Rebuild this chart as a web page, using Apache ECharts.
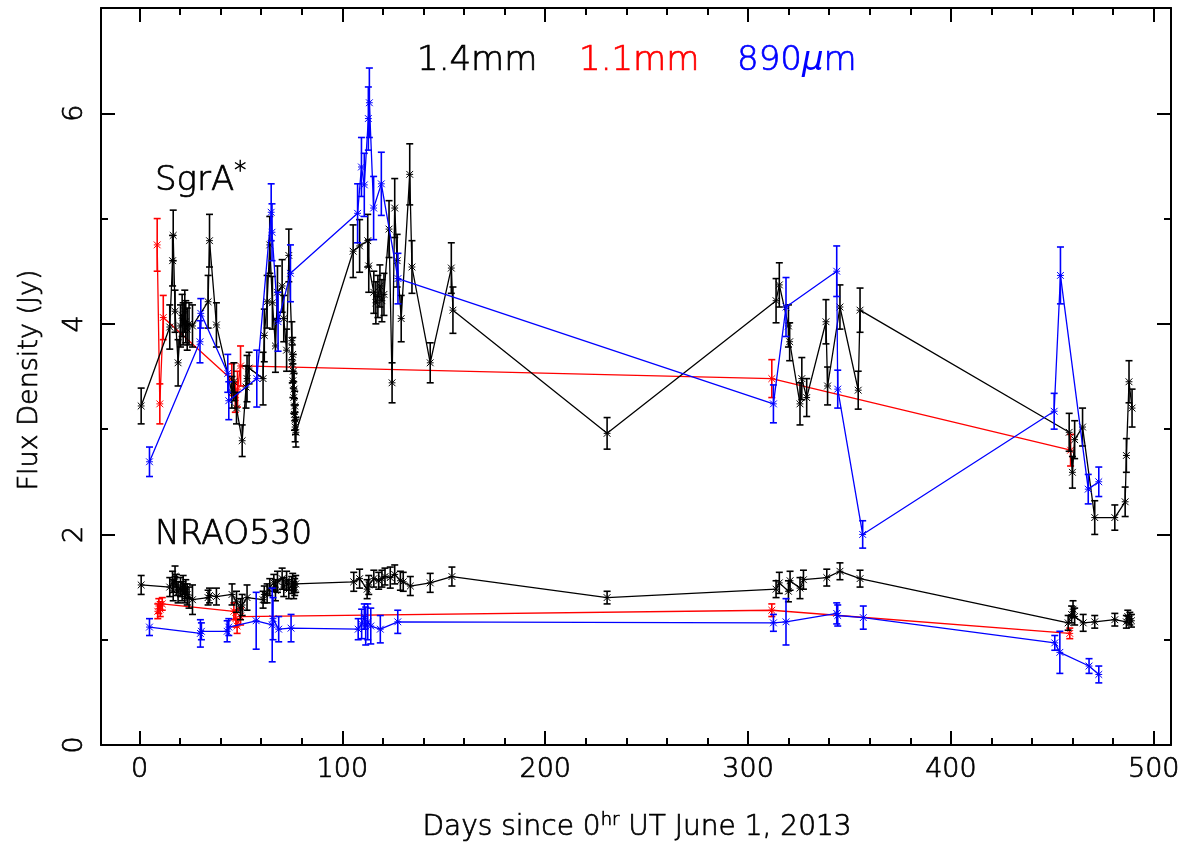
<!DOCTYPE html>
<html>
<head>
<meta charset="utf-8">
<script src="https://cdn.jsdelivr.net/npm/echarts@6/dist/echarts.min.js"></script>
<style>
  html, body { margin: 0; padding: 0; background: #ffffff; }
  #chart { width: 1182px; height: 847px; }
</style>
</head>
<body>
<div id="chart"></div>
<script>
// Light curves: [day, flux density (Jy), 1-sigma error]
const sgrA_14mm = [
  [0.8,3.22,0.17],[14.9,3.97,0.21],[16.3,4.60,0.24],[16.6,4.84,0.24],[17.5,4.12,0.20],[19.0,3.63,0.22],
  [20.2,3.98,0.20],[21.0,4.08,0.20],[21.5,4.00,0.20],[22.3,4.12,0.20],[22.8,4.02,0.20],[23.5,3.95,0.20],
  [24.4,4.00,0.20],[26.1,3.98,0.20],[33.8,4.21,0.25],[34.5,4.79,0.25],[37.9,3.99,0.21],[45.5,3.35,0.15],
  [46.5,3.45,0.18],[47.8,3.20,0.15],[50.6,2.89,0.15],[52.5,3.40,0.20],[53.0,3.48,0.22],[54.0,3.58,0.15],
  [60.9,3.48,0.25],[61.5,3.89,0.25],[62.9,4.21,0.25],[64.2,4.75,0.27],[65.5,4.20,0.25],[67.0,3.79,0.25],
  [68.0,4.30,0.25],[70.3,4.36,0.25],[71.1,4.05,0.22],[72.5,3.75,0.20],[73.6,4.65,0.25],[75.1,3.84,0.18],
  [75.3,3.62,0.18],[75.5,3.71,0.16],[75.6,3.46,0.16],[75.8,3.55,0.16],[76.0,3.30,0.15],[76.2,3.38,0.15],
  [76.4,3.14,0.15],[76.5,3.22,0.14],[76.7,3.02,0.14],[76.9,3.09,0.14],[77.1,2.97,0.14],
  [105.3,4.69,0.25],[108.5,4.74,0.25],[112.5,4.79,0.25],[113.0,4.55,0.25],[115.5,4.30,0.20],[116.5,4.20,0.20],
  [117.5,4.26,0.20],[118.5,4.36,0.20],[119.5,4.22,0.20],[120.5,4.28,0.20],[123.0,4.90,0.27],[124.5,3.44,0.19],
  [125.8,5.10,0.28],[127.0,4.60,0.25],[129.0,4.05,0.22],[133.2,5.42,0.29],[134.3,4.54,0.25],[143.3,3.63,0.19],
  [153.7,4.53,0.24],[154.5,4.13,0.22],[230.5,2.96,0.15],[313.8,4.22,0.21],[315.4,4.37,0.21],[319.9,3.98,0.20],
  [320.5,3.83,0.18],[325.6,3.24,0.20],[326.5,3.48,0.20],[328.9,3.30,0.18],[338.4,4.02,0.21],[339.2,3.41,0.18],
  [345.3,4.16,0.21],[354.3,3.37,0.18],[355.2,4.13,0.21],[458.3,2.97,0.18],[459.9,2.59,0.15],[461.0,2.90,0.18],
  [464.9,3.02,0.18],[470.9,2.16,0.16],[480.8,2.16,0.12],[485.9,2.31,0.14],[486.5,2.75,0.16],[487.8,3.45,0.20],
  [489.3,3.20,0.18]
];
const sgrA_11mm = [
  [8.7,4.75,0.25],[10.0,3.24,0.19],[11.7,4.06,0.21],[45.5,3.47,0.15],[47.2,3.30,0.14],[48.3,3.38,0.17],
  [49.8,3.60,0.19],[311.7,3.48,0.18],[459.0,2.80,0.15]
];
const sgrA_890um = [
  [4.9,2.69,0.14],[29.8,3.83,0.20],[30.2,4.10,0.14],[43.5,3.53,0.18],[44.0,3.27,0.18],[57.8,3.48,0.27],
  [64.9,5.06,0.27],[65.3,4.87,0.27],[68.3,4.02,0.28],[74.4,4.48,0.27],[107.5,5.05,0.28],[109.4,5.49,0.28],
  [110.8,5.32,0.30],[112.8,5.95,0.30],[113.3,6.10,0.33],[115.4,5.10,0.30],[119.2,5.33,0.30],[127.4,4.43,0.24],
  [312.5,3.24,0.18],[318.7,4.16,0.28],[343.7,4.50,0.24],[344.2,3.38,0.18],[356.5,2.00,0.13],[450.9,3.17,0.17],
  [454.0,4.46,0.27],[467.7,2.43,0.14],[472.9,2.50,0.14]
];
const nrao_14mm = [
  [0.8,1.52,0.09],[14.9,1.50,0.09],[16.3,1.55,0.10],[16.6,1.47,0.10],[17.5,1.60,0.10],[18.2,1.52,0.10],
  [19.0,1.45,0.10],[20.2,1.50,0.09],[21.0,1.46,0.09],[21.5,1.52,0.09],[22.3,1.44,0.09],[22.8,1.48,0.09],
  [23.5,1.43,0.10],[24.4,1.40,0.10],[26.1,1.38,0.14],[33.8,1.40,0.07],[34.5,1.42,0.07],[37.9,1.41,0.08],
  [45.6,1.43,0.10],[47.8,1.36,0.10],[49.8,1.29,0.10],[50.6,1.33,0.10],[53.0,1.40,0.12],[60.9,1.38,0.08],
  [61.5,1.43,0.08],[62.9,1.44,0.09],[64.2,1.50,0.08],[66.2,1.54,0.08],[67.0,1.47,0.10],[68.0,1.55,0.10],
  [70.3,1.58,0.10],[71.1,1.50,0.09],[72.5,1.56,0.09],[73.6,1.48,0.09],[75.0,1.52,0.08],[75.5,1.55,0.08],
  [76.0,1.47,0.08],[76.5,1.50,0.08],[77.0,1.53,0.08],[105.6,1.55,0.09],[108.5,1.58,0.09],[112.2,1.48,0.09],
  [113.0,1.52,0.09],[115.5,1.58,0.08],[117.9,1.56,0.08],[119.5,1.58,0.08],[121.0,1.60,0.08],[123.6,1.59,0.10],
  [125.8,1.62,0.09],[128.6,1.56,0.09],[130.0,1.55,0.09],[133.5,1.51,0.09],[143.3,1.54,0.09],[154.0,1.60,0.09],
  [230.5,1.40,0.06],[313.8,1.48,0.08],[315.4,1.54,0.10],[319.9,1.46,0.10],[320.7,1.56,0.09],[325.6,1.49,0.10],
  [327.3,1.57,0.09],[338.8,1.59,0.08],[345.3,1.65,0.08],[355.2,1.58,0.08],[457.8,1.16,0.07],[459.5,1.24,0.08],
  [460.2,1.29,0.08],[461.0,1.22,0.08],[465.2,1.16,0.08],[470.9,1.17,0.06],[480.8,1.19,0.06],[486.5,1.17,0.06],
  [487.2,1.22,0.06],[488.2,1.20,0.06],[489.0,1.18,0.06]
];
const nrao_11mm = [
  [9.0,1.27,0.07],[9.5,1.32,0.07],[10.2,1.29,0.07],[11.2,1.34,0.06],[46.5,1.27,0.08],[47.5,1.20,0.08],
  [48.1,1.13,0.07],[49.8,1.22,0.08],[311.7,1.28,0.06],[458.6,1.06,0.05]
];
const nrao_890um = [
  [4.9,1.12,0.08],[30.0,1.06,0.13],[30.5,1.08,0.08],[43.2,1.08,0.10],[44.0,1.12,0.08],[57.5,1.18,0.27],
  [65.4,1.14,0.35],[65.8,1.20,0.20],[68.6,1.10,0.12],[74.7,1.11,0.13],[107.8,1.10,0.10],[109.5,1.15,0.14],
  [110.8,1.22,0.12],[111.5,1.13,0.18],[112.5,1.17,0.17],[114.0,1.13,0.17],[118.7,1.10,0.13],[127.3,1.17,0.11],
  [312.5,1.16,0.08],[318.7,1.17,0.22],[343.7,1.25,0.10],[344.2,1.23,0.10],[356.8,1.21,0.11],[451.2,0.97,0.07],
  [453.7,0.88,0.20],[468.1,0.75,0.07],[472.9,0.67,0.08]
];

// Axis ticks
const xMajorTicks = [0, 100, 200, 300, 400, 500];
const xMinorTicks = [0,20,40,60,80,100,120,140,160,180,200,220,240,260,280,300,320,340,360,380,400,420,440,460,480,500];
const yMajorTicks = [0, 2, 4, 6];
const yMinorTicks = [1, 3, 5];

const X_MIN = -19, X_MAX = 508.5, Y_MIN = 0, Y_MAX = 7;
const FONT = '"DejaVu Sans", "Liberation Sans", sans-serif';
const W = 200;      // thin glyphs ...
const EDGE = 0.7;   // ... thickened slightly with a same-colour outline
const BLACK = '#000000', RED = '#ff0000', BLUE = '#0000ff';

const chart = echarts.init(document.getElementById('chart'), null, { renderer: 'canvas' });

function xAxisDef(position, ticks, len, withLabels, withLine) {
  return {
    type: 'value', min: X_MIN, max: X_MAX, position: position,
    axisLine: { show: withLine, onZero: false, lineStyle: { color: BLACK, width: 2 } },
    axisTick: { show: true, inside: true, length: len, customValues: ticks, lineStyle: { color: BLACK, width: 2 } },
    axisLabel: { show: withLabels, customValues: ticks, color: BLACK, fontSize: 27, fontWeight: W, fontFamily: FONT,
                 textBorderColor: BLACK, textBorderWidth: EDGE, margin: 11 },
    splitLine: { show: false }
  };
}
function yAxisDef(position, ticks, len, withLabels, withLine) {
  return {
    type: 'value', min: Y_MIN, max: Y_MAX, position: position,
    axisLine: { show: withLine, onZero: false, lineStyle: { color: BLACK, width: 2 } },
    axisTick: { show: true, inside: true, length: len, customValues: ticks, lineStyle: { color: BLACK, width: 2 } },
    axisLabel: { show: withLabels, customValues: ticks, rotate: 90, color: BLACK, fontSize: 27, fontWeight: W, fontFamily: FONT,
                 textBorderColor: BLACK, textBorderWidth: EDGE, margin: 13 },
    splitLine: { show: false }
  };
}

// Error bars with end caps and an asterisk-style marker at the measured value
function errorSeries(data, color, z) {
  return {
    type: 'custom', data: data, z: z, silent: true,
    encode: { x: 0, y: 1 },
    renderItem: function (params, api) {
      const x = api.value(0), y = api.value(1), e = api.value(2);
      const c = api.coord([x, y]);
      const lo = api.coord([x, y - e]);
      const hi = api.coord([x, y + e]);
      const cap = 3.5, m = 3.4;
      const st = { stroke: color, lineWidth: 1.6 };
      const ms = { stroke: color, lineWidth: 1 };
      return {
        type: 'group',
        children: [
          { type: 'line', shape: { x1: c[0], y1: lo[1], x2: c[0], y2: hi[1] }, style: st },
          { type: 'line', shape: { x1: c[0] - cap, y1: lo[1], x2: c[0] + cap, y2: lo[1] }, style: st },
          { type: 'line', shape: { x1: c[0] - cap, y1: hi[1], x2: c[0] + cap, y2: hi[1] }, style: st },
          { type: 'line', shape: { x1: c[0] - m, y1: c[1] - m, x2: c[0] + m, y2: c[1] + m }, style: ms },
          { type: 'line', shape: { x1: c[0] - m, y1: c[1] + m, x2: c[0] + m, y2: c[1] - m }, style: ms },
          { type: 'line', shape: { x1: c[0] - m, y1: c[1], x2: c[0] + m, y2: c[1] }, style: ms }
        ]
      };
    }
  };
}
function lineSeries(data, color, z) {
  return {
    type: 'line', data: data.map(function (d) { return [d[0], d[1]]; }), z: z,
    showSymbol: false, symbol: 'none', silent: true,
    lineStyle: { color: color, width: 1.3 }
  };
}

const seriesList = [];
[[sgrA_11mm, RED, 2], [nrao_11mm, RED, 2], [sgrA_14mm, BLACK, 3], [nrao_14mm, BLACK, 3],
 [sgrA_890um, BLUE, 4], [nrao_890um, BLUE, 4]].forEach(function (s) {
  seriesList.push(lineSeries(s[0], s[1], s[2]));
  seriesList.push(errorSeries(s[0], s[1], s[2]));
});

// zrender text token: thin face plus a hairline outline in the fill colour
function tok(size, color, extra) {
  return Object.assign({ fontSize: size, fontWeight: W, fontFamily: FONT,
                         fill: color, stroke: color, lineWidth: EDGE }, extra || {});
}
function plainText(x, y, str, size, color, rotation, align) {
  return { type: 'text', x: x, y: y, rotation: rotation || 0, style: Object.assign({
    text: str, textAlign: align || 'left', textVerticalAlign: 'middle' }, tok(size, color)) };
}

const option = {
  backgroundColor: '#ffffff',
  animation: false,
  grid: { left: 101, right: 11, top: 8, bottom: 102, containLabel: false, outerBoundsMode: 'none' },
  xAxis: [
    xAxisDef('bottom', xMajorTicks, 14, true, true),
    xAxisDef('bottom', xMinorTicks, 7, false, false),
    xAxisDef('top', xMajorTicks, 14, false, true),
    xAxisDef('top', xMinorTicks, 7, false, false)
  ],
  yAxis: [
    yAxisDef('left', yMajorTicks, 14, true, true),
    yAxisDef('left', yMinorTicks, 7, false, false),
    yAxisDef('right', yMajorTicks, 14, false, true),
    yAxisDef('right', yMinorTicks, 7, false, false)
  ],
  series: seriesList,
  graphic: [
    plainText(417, 61, '1.4mm', 34, BLACK),
    plainText(579, 61, '1.1mm', 34, RED),
    { type: 'text', x: 737, y: 61, style: {
        text: '{n|890}{i|μ}{n|m}', textVerticalAlign: 'middle', fill: BLUE,
        rich: { n: tok(34, BLUE),
                i: { fontSize: 34, fontFamily: FONT, fontStyle: 'italic', fontWeight: 'normal', fill: BLUE } }
    } },
    { type: 'text', x: 155, y: 181, style: {
        text: '{a|SgrA}{s|*}', textVerticalAlign: 'middle', fill: BLACK,
        rich: { a: tok(34, BLACK), s: tok(24, BLACK, { padding: [0, 0, 18, 0] }) }
    } },
    plainText(155, 535, 'NRAO530', 33, BLACK),
    plainText(30, 380, 'Flux Density (Jy)', 27, BLACK, Math.PI / 2, 'center'),
    { type: 'text', x: 637, y: 828, style: {
        text: '{a|Days since 0}{s|hr}{a| UT June 1, 2013}', textAlign: 'center', textVerticalAlign: 'middle', fill: BLACK,
        rich: { a: tok(28, BLACK), s: tok(18, BLACK, { padding: [0, 0, 15, 0] }) }
    } }
  ]
};
chart.setOption(option);
</script>
</body>
</html>
